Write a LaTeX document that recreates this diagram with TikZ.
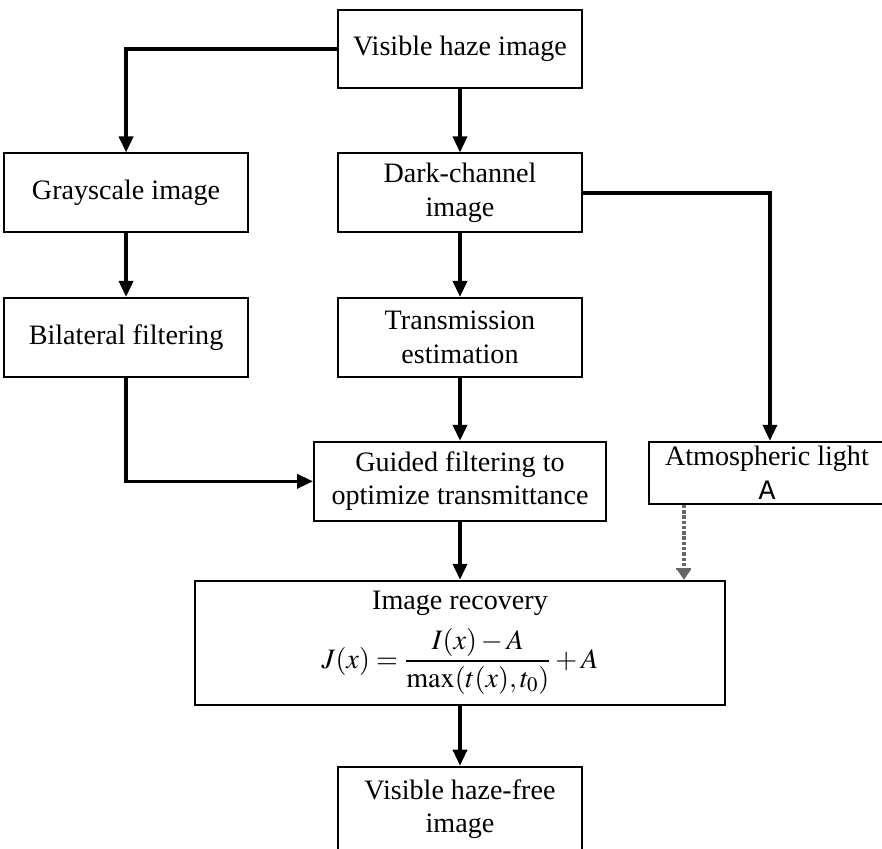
\documentclass[tikz,border=0pt]{standalone}
\usepackage{amsmath}
\usepackage{mathptmx}
\usepackage{fontspec}
\setmainfont{Liberation Serif}
\setmonofont{Liberation Mono}
\usetikzlibrary{arrows.meta,positioning}

\begin{document}
\begin{tikzpicture}[
    node distance=1.27cm and 1.76cm,
    flowbox/.style={draw, line width=1.1pt, fill=white, minimum width=4.88cm, minimum height=1.58cm, align=center, inner sep=2pt, font=\fontsize{16}{19}\selectfont},
    arrow/.style={-{Triangle[length=0.32cm, width=0.28cm]}, line width=2pt},
    dotarrow/.style={-{Bar[width=0.3cm, line width=1.2pt] Triangle[length=0.2cm, width=0.26cm]}, densely dotted, line width=2pt, black!60}
  ]
  \useasboundingbox (-9.2,0.98) rectangle (8.44,-15.98);
  \node[flowbox, minimum height=1.56cm] (haze) at (0,0) {Visible haze image};
  \node[flowbox, below=of haze] (dark) {Dark-channel\\image};
  \node[flowbox, below=of dark] (trans) {Transmission\\estimation};
  \node[flowbox, left=of dark] (gray) {Grayscale image};
  \node[flowbox, left=of trans] (bilat) {Bilateral filtering};
  \node[flowbox, minimum width=5.84cm, below=1.26cm of trans] (guided) {Guided filtering to\\optimize transmittance};
  \node[flowbox, minimum width=4.72cm, minimum height=1.24cm, anchor=north west, inner sep=1pt] (atmos) at ([xshift=0.82cm]guided.north east) {Atmospheric light\\[0pt]{\ttfamily A}};
  \node[flowbox, minimum width=10.6cm, minimum height=2.48cm, below=1.16cm of guided] (recovery) {Image recovery\\[6pt]$J(x)=\dfrac{I(x)-A}{\max(t(x),t_0)}+A$};
  \node[flowbox, minimum height=1.7cm, below=1.2cm of recovery] (free) {Visible haze-free\\image};
  \coordinate (atmfoot) at ([xshift=0.72cm]atmos.south west);
  \draw[arrow] (haze.west) -| (gray.north);
  \draw[arrow] (haze) -- (dark);
  \draw[arrow] (dark.east) -| ([xshift=0.06cm]atmos.north);
  \draw[arrow] (gray) -- (bilat);
  \draw[arrow] (dark) -- (trans);
  \draw[arrow] (trans) -- (guided);
  \draw[arrow] (bilat.south) |- (guided.west);
  \draw[arrow] (guided) -- (recovery);
  \draw[dotarrow] (atmfoot) -- (atmfoot |- recovery.north);
  \draw[arrow] (recovery) -- (free);
\end{tikzpicture}
\end{document}
